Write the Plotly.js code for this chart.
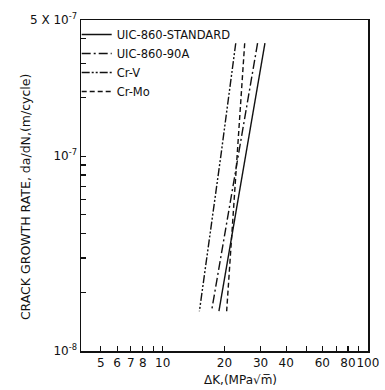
<!DOCTYPE html>
<html>
<head>
<meta charset="utf-8">
<script src="https://cdn.plot.ly/plotly-3.0.1.min.js"></script>
<style>html,body{margin:0;padding:0;background:#fff;}#chart{width:385px;height:390px;}</style>
</head>
<body>
<div id="chart"></div>
<script>
// Data (ΔK in MPa√m, da/dN in m/cycle)
const seriesNames = ["UIC-860-STANDARD", "UIC-860-90A", "Cr-V", "Cr-Mo"];
const dadN = [3.8e-7, 1.0e-7, 1.6e-8];
const dK_standard = [31.5, 25.3, 18.8];
const dK_90A = [29.0, 23.4, 17.3];
const dK_CrV = [22.7, 19.2, 15.1];
const dK_CrMo = [25.1, 23.1, 20.5];

const xTickVals = [5, 6, 7, 8, 10, 20, 30, 40, 60, 80, 100];
const xTickText = ["5", "6", "7", "8", "10", "20", "30", "40", "60", "80", "100"];
const xMinorVals = [9, 50, 70, 90];
const yTickVals = [1e-8, 1e-7, 5e-7];
const yTickText = ["10<sup>-8</sup>", "10<sup>-7</sup>", "5 X 10<sup>-7</sup>"];
const yMinorVals = [2e-8, 3e-8, 4e-8, 5e-8, 6e-8, 7e-8, 8e-8, 9e-8, 2e-7, 3e-7, 4e-7];

const xs = [dK_standard, dK_90A, dK_CrV, dK_CrMo];
const dashes = ["solid", "9px,3px,2px,3px", "8px,2px,2px,2px,2px,2px", "5px,3px"];

const traces = seriesNames.map((n, i) => ({
  x: xs[i], y: dadN, name: n, type: "scatter", mode: "lines",
  line: {color: "#111", width: 1.4, dash: dashes[i]}
}));

const layout = {
  width: 385, height: 390,
  margin: {l: 81, r: 17, t: 20, b: 39},
  paper_bgcolor: "#fff", plot_bgcolor: "#fff",
  font: {family: "DejaVu Sans, sans-serif", color: "#111", size: 12},
  showlegend: true,
  legend: {x: -0.015, y: 1.0, xanchor: "left", yanchor: "top", bgcolor: "rgba(0,0,0,0)",
           font: {size: 11.5}, tracegroupgap: 0, itemwidth: 30},
  xaxis: {
    type: "log", range: [Math.log10(4), 2.0005],
    tickmode: "array", tickvals: xTickVals, ticktext: xTickText, tickangle: 0,
    ticks: "inside", ticklen: 5, tickwidth: 1.2, tickcolor: "#111",
    minor: {tickmode: "array", tickvals: xMinorVals, ticks: "inside", ticklen: 5, tickwidth: 1.2, tickcolor: "#111", showgrid: false},
    showline: true, linecolor: "#111", linewidth: 1.5, mirror: true,
    showgrid: false, zeroline: false,
    tickfont: {size: 12}
  },
  yaxis: {
    type: "log", range: [-8, Math.log10(5e-7)],
    tickmode: "array", tickvals: yTickVals, ticktext: yTickText,
    ticks: "inside", ticklen: 5, tickwidth: 1.2, tickcolor: "#111",
    minor: {tickmode: "array", tickvals: yMinorVals, ticks: "inside", ticklen: 5, tickwidth: 1.2, tickcolor: "#111", showgrid: false},
    showline: true, linecolor: "#111", linewidth: 1.5, mirror: true,
    showgrid: false, zeroline: false,
    tickfont: {size: 12}
  },
  annotations: [{
    text: "ΔK,(MPa√m\u0305)", xref: "paper", yref: "paper", x: 0.555, y: 0,
    xanchor: "center", yanchor: "top", yshift: -20, showarrow: false, font: {size: 12}
  }, {
    text: "CRACK GROWTH RATE, da/dN,(m/cycle)", xref: "paper", yref: "paper",
    x: -0.195, y: 0.465, xanchor: "center", yanchor: "middle", textangle: -90,
    showarrow: false, font: {size: 12.5}
  }]
};

Plotly.newPlot("chart", traces, layout, {displayModeBar: false, staticPlot: true});
</script>
</body>
</html>
